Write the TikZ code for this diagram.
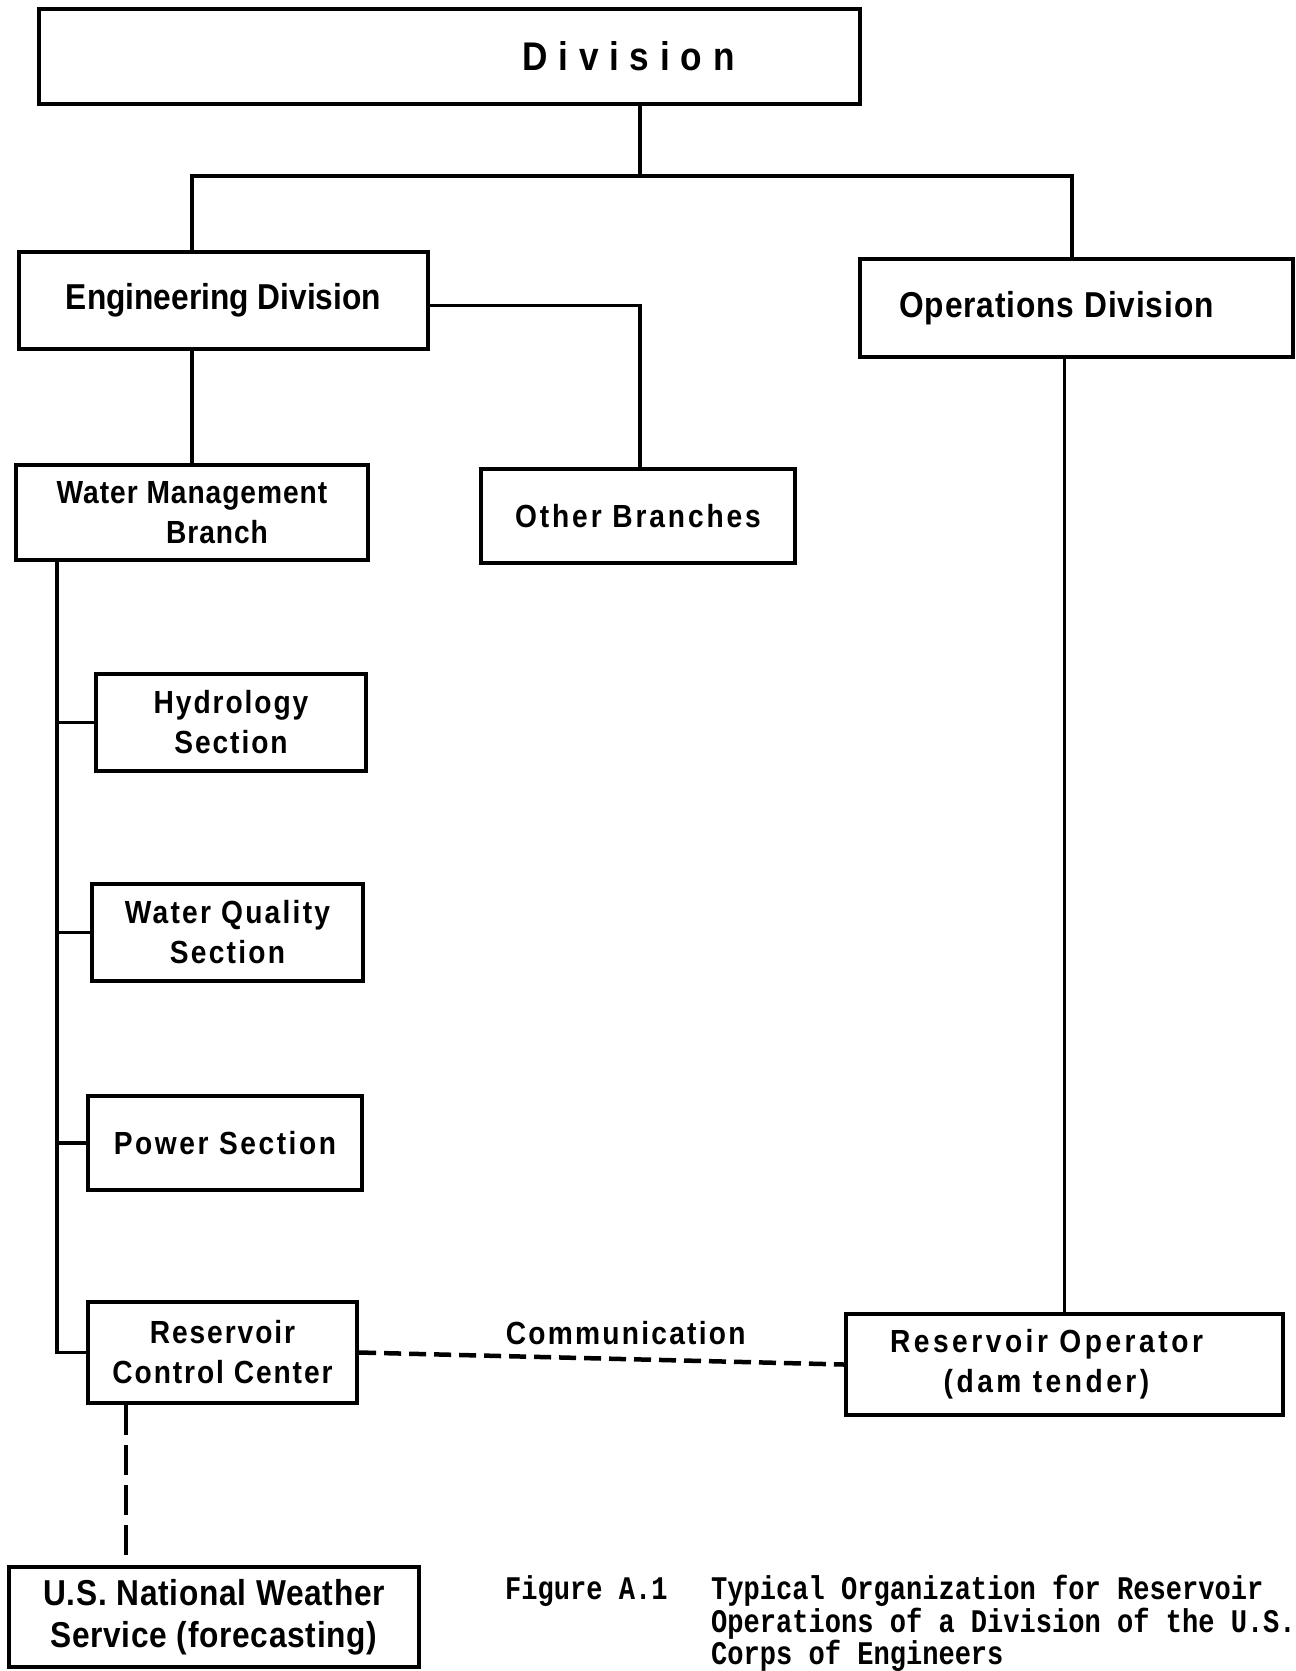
\documentclass[tikz,border=0pt]{standalone}
\usepackage{fontspec}
\newfontfamily\chartfont[FakeStretch=0.88]{Liberation Sans}
\newfontfamily\capfont[FakeStretch=0.82]{Liberation Mono}
\tikzset{
  x=1pt, y=-1pt,
  orgbox/.style={draw, line width=4.2pt, rectangle, inner sep=0pt, align=center,
    font=\chartfont\bfseries\fontsize{32}{40}\selectfont},
  bigtext/.style={font=\chartfont\bfseries\fontsize{36}{42}\selectfont},
  spaced/.style={execute at begin node={\addfontfeature{LetterSpace=#1}}},
  link/.style={line width=3.8pt},
  commlink/.style={line width=4.5pt, dash pattern=on 17pt off 8pt},
  wslink/.style={line width=4pt, dash pattern=on 30pt off 10pt},
  captext/.style={inner sep=0pt, align=left,
    font=\capfont\bfseries\fontsize{33}{31}\selectfont},
}
\begin{document}
\begin{tikzpicture}
\useasboundingbox (0,0) rectangle (1296,1671);

% boxes
\node[orgbox, minimum width=821, minimum height=95,
      font=\chartfont\bfseries\fontsize{40}{44}\selectfont, spaced=27] (div) at (449.5,56.5) {\hspace*{358pt}Division};
\node[orgbox, bigtext, minimum width=409, minimum height=97] (eng) at (223.5,300.5) {Engineering Division};
\node[orgbox, bigtext, spaced=2.5, minimum width=433, minimum height=98] (ops) at (1076.5,308) {Operations Division\hspace*{40pt}};
\node[orgbox, spaced=3, minimum width=352, minimum height=95] (wmb) at (192,512.5) {Water Management\\\hspace*{50pt}Branch};
\node[orgbox, spaced=9, minimum width=314, minimum height=94] (oth) at (638,516) {Other Branches};
\node[orgbox, spaced=6, minimum width=270, minimum height=97] (hyd) at (231,722.5) {Hydrology\\Section};
\node[orgbox, spaced=7, minimum width=271, minimum height=97] (wq) at (227.5,932.5) {Water Quality\\Section};
\node[orgbox, spaced=8, minimum width=274, minimum height=94] (pow) at (225,1143) {Power Section};
\node[orgbox, spaced=6, minimum width=269, minimum height=101] (rcc) at (222.5,1352.5) {Reservoir\\Control Center};
\node[orgbox, spaced=11, minimum width=437, minimum height=101] (ro) at (1064.5,1364.5) {Reservoir Operator\hspace*{36pt}\\(dam tender)\hspace*{36pt}};
\node[orgbox, bigtext, spaced=2, minimum width=410, minimum height=100] (nws) at (214,1617) {U.S. National Weather\\Service (forecasting)};

% x positions of the vertical lines
\coordinate (stemL) at (192,0);
\coordinate (stemR) at (1072,0);
\coordinate (spine) at (57,0);
\coordinate (wsx) at (126,0);
\coordinate (bus) at (640,176);

% solid connectors
\draw[link] (div.south -| bus) -- (bus);
\draw[link] (eng.north -| stemL) |- (bus) -| (ops.north -| stemR);
\draw[link] (eng.south -| wmb.north) -- (wmb.north);
\draw[link] ([yshift=-5pt]eng.east) -| (oth.north -| bus);
\draw[link] (ops.south -| ro.north) -- (ro.north);
\draw[link] (wmb.south -| spine) |- (rcc.west);
\draw[link] (hyd.west -| spine) -- (hyd.west);
\draw[link] (wq.west -| spine) -- (wq.west);
\draw[link] (pow.west -| spine) -- (pow.west);

% dashed connectors
\draw[commlink] (rcc.east) -- node[pos=0.55, above=12pt, inner sep=0pt,
   font=\chartfont\bfseries\fontsize{32}{40}\selectfont, spaced=7] (comm) {Communication} (ro.west);
\draw[wslink] (rcc.south -| wsx) -- (nws.north -| wsx);

% caption
\node[captext, anchor=north west] (figno) at (505,1575) {Figure A.1};
\node[captext, anchor=north west] (figtext) at (711,1575)
  {Typical Organization for Reservoir\\Operations of a Division of the U.S.\\Corps of Engineers};
\end{tikzpicture}
\end{document}
